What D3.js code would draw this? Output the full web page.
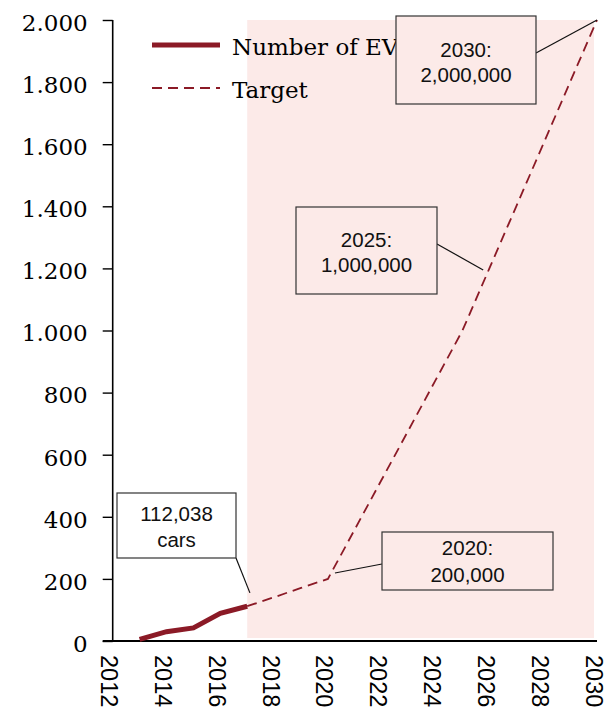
<!DOCTYPE html>
<html><head><meta charset="utf-8">
<script src="https://cdn.jsdelivr.net/npm/d3@7"></script>
<style>body{margin:0;background:#fff}</style>
</head><body>
<svg id="chart" width="605" height="710"></svg>
<script>
const actualYears = [2013, 2014, 2015, 2016, 2017];
const actualValues = [5, 30, 42, 89, 112];
const targetYears = [2017, 2018, 2019, 2020, 2021, 2022, 2023, 2024, 2025, 2026, 2027, 2028, 2029, 2030];
const targetValues = [112, 141, 171, 200, 360, 520, 680, 840, 1000, 1200, 1400, 1600, 1800, 2000];
const yTicks = [0, 200, 400, 600, 800, 1000, 1200, 1400, 1600, 1800, 2000];
const xTicks = [2012, 2014, 2016, 2018, 2020, 2022, 2024, 2026, 2028, 2030];
const legendLabels = ["Number of EVs", "Target"];
const shadeRange = [2017, 2030];
const annotations = [
  {lines: ["112,038", "cars"], ax: 2017.1, ay: 155},
  {lines: ["2020:", "200,000"], ax: 2020.26, ay: 219},
  {lines: ["2025:", "1,000,000"], ax: 2025.77, ay: 1195},
  {lines: ["2030:", "2,000,000"], ax: 2030, ay: 2000}
];
// layout for annotation boxes (pixels)
const boxLayout = [
  {x: 117, y: 493, w: 119, h: 65, b1: 28, b2: 54, fill: "#ffffff", lx: 236, ly: 558},
  {x: 382, y: 532, w: 171, h: 58, b1: 23, b2: 50, fill: "#fceae8", lx: 382, ly: 564},
  {x: 296, y: 207, w: 141, h: 87, b1: 40, b2: 65, fill: "#fceae8", lx: 437, ly: 244},
  {x: 396, y: 16, w: 140, h: 88, b1: 41, b2: 66, fill: "#fceae8", lx: 536, ly: 53}
];

const RED = "#8b1a26";
const svg = d3.select("#chart");
const x = d3.scaleLinear().domain([2012, 2030]).range([112.7, 597]);
const y = d3.scaleLinear().domain([0, 2000]).range([641, 20]);
const loc = d3.formatLocale({decimal: ",", thousands: ".", grouping: [3], currency: ["", ""]});
const fmt = loc.format(",d");

// shaded forecast region
svg.append("rect")
  .attr("x", x(shadeRange[0])).attr("y", y(2000))
  .attr("width", x(shadeRange[1]) - x(shadeRange[0]) - 3)
  .attr("height", y(0) - y(2000) - 3)
  .attr("fill", "#fceae8");

// y axis
const yAxis = svg.append("g").attr("transform", `translate(${x(2012)},0)`)
  .call(d3.axisLeft(y).tickValues(yTicks).tickFormat(fmt).tickSize(10).tickPadding(15));
yAxis.select(".domain").attr("stroke", "#000").attr("stroke-width", 1.6).attr("d", `M0,${y(2000)}V${y(0)}`);
yAxis.selectAll(".tick line").attr("stroke", "#000").attr("stroke-width", 1.4);
yAxis.selectAll(".tick text").attr("font-family", "DejaVu Serif").attr("font-size", 23).attr("fill", "#000").attr("dy", "0.45em");

// x axis
const xAxis = svg.append("g").attr("transform", `translate(0,${y(0)})`)
  .call(d3.axisBottom(x).tickValues(xTicks).tickFormat(d3.format("d")).tickSize(0));
xAxis.select(".domain").attr("stroke", "#000").attr("stroke-width", 1.8).attr("d", `M${x(2012) - 10},0H${x(2030)}`);
xAxis.selectAll(".tick text")
  .attr("font-family", "Liberation Sans, Arial").attr("font-size", 23.5).attr("fill", "#000")
  .attr("text-anchor", "start").attr("dy", null).attr("y", 0)
  .attr("transform", "translate(-4,14) rotate(90)")
  .attr("dominant-baseline", "central");

// lines
const line = d3.line().x(d => x(d[0])).y(d => y(d[1]));
svg.append("path").datum(targetYears.map((t, i) => [t, targetValues[i]]))
  .attr("d", line).attr("fill", "none").attr("stroke", RED).attr("stroke-width", 1.8).attr("stroke-dasharray", "10,6");
svg.append("path").datum(actualYears.map((t, i) => [t, actualValues[i]]))
  .attr("d", line).attr("fill", "none").attr("stroke", RED).attr("stroke-width", 5);

// legend
const lg = svg.append("g");
lg.append("line").attr("x1", 152).attr("x2", 220).attr("y1", 45).attr("y2", 45).attr("stroke", RED).attr("stroke-width", 5);
lg.append("line").attr("x1", 152).attr("x2", 220).attr("y1", 88).attr("y2", 88).attr("stroke", RED).attr("stroke-width", 1.8).attr("stroke-dasharray", "10,6");
lg.selectAll("text").data(legendLabels).join("text")
  .attr("x", 232).attr("y", (d, i) => 55 + i * 43)
  .attr("font-family", "DejaVu Serif").attr("font-size", 23).attr("fill", "#000")
  .text(d => d);

// annotations
annotations.forEach((a, i) => {
  const b = boxLayout[i];
  svg.append("line").attr("x1", b.lx).attr("y1", b.ly).attr("x2", x(a.ax)).attr("y2", y(a.ay))
    .attr("stroke", "#111").attr("stroke-width", 1.2);
  const g = svg.append("g");
  g.append("rect").attr("x", b.x).attr("y", b.y).attr("width", b.w).attr("height", b.h)
    .attr("fill", b.fill).attr("stroke", "#333").attr("stroke-width", 1.2);
  g.selectAll("text").data(a.lines).join("text")
    .attr("x", b.x + b.w / 2).attr("y", (d, j) => b.y + (j === 0 ? b.b1 : b.b2))
    .attr("text-anchor", "middle").attr("font-family", "Liberation Sans, Arial").attr("font-size", 20.5).attr("fill", "#111")
    .text(d => d);
});
</script>
</body></html>
